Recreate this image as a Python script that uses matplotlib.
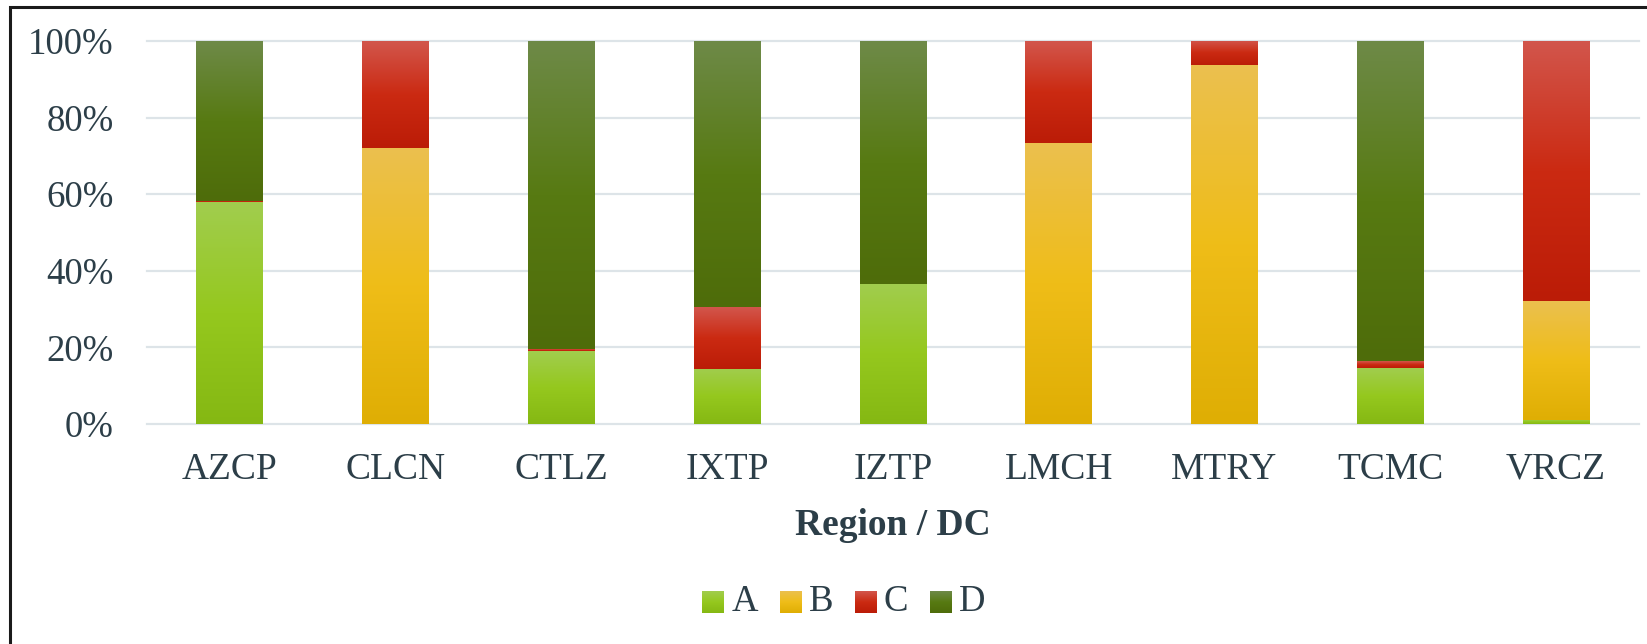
import numpy as np
import matplotlib
matplotlib.use("Agg")
import matplotlib.pyplot as plt
from matplotlib.colors import LinearSegmentedColormap
from matplotlib.patches import Rectangle
from matplotlib.image import BboxImage
from matplotlib.transforms import Bbox, TransformedBbox
from matplotlib.legend_handler import HandlerBase

# share of each class per region / DC (percent)
regions = ["AZCP", "CLCN", "CTLZ", "IXTP", "IZTP", "LMCH", "MTRY", "TCMC", "VRCZ"]
share_a = [57.9, 0.0, 19.0, 14.4, 36.6, 0.0, 0.0, 14.6, 1.1]
share_b = [0.0, 72.1, 0.0, 0.0, 0.0, 73.4, 93.7, 0.0, 31.0]
share_c = [0.4, 27.9, 0.5, 16.1, 0.0, 26.6, 6.3, 1.8, 67.9]
share_d = [41.7, 0.0, 80.5, 69.5, 63.4, 0.0, 0.0, 83.6, 0.0]
series_names = ["A", "B", "C", "D"]

# light top -> saturated middle -> darker bottom
gradients = {
    "A": ["#a1cd4e", "#95c81e", "#85b813"],
    "B": ["#ebc04f", "#efbd18", "#dfae04"],
    "C": ["#d2564c", "#cb2a12", "#bb1c07"],
    "D": ["#6e8a48", "#577a12", "#4e6c0a"],
}
text_color = "#2c3e48"
grid_color = "#dde4e8"

plt.rcParams["font.family"] = ["Liberation Serif", "DejaVu Serif"]

cmaps = {k: LinearSegmentedColormap.from_list(k, v) for k, v in gradients.items()}
ramp = np.linspace(0, 1, 256).reshape(-1, 1)


class GradientHandler(HandlerBase):
    def legend_artist(self, legend, orig_handle, fontsize, handlebox):
        x0, y0 = handlebox.xdescent, handlebox.ydescent
        side = handlebox.height
        box = TransformedBbox(Bbox.from_bounds(x0, y0, side, side),
                              handlebox.get_transform())
        img = BboxImage(box, cmap=cmaps[orig_handle.get_label()],
                        interpolation="bilinear")
        img.set_data(ramp)
        handlebox.add_artist(img)
        return img


fig = plt.figure(figsize=(16.47, 6.44), dpi=100)
ax = fig.add_axes([0.0891, 0.3416, 0.906, 0.5947])

x = np.arange(len(regions))
width = 0.40
bottom = np.zeros(len(regions))
for name, vals in zip(series_names, [share_a, share_b, share_c, share_d]):
    vals = np.asarray(vals)
    for xi, b, v in zip(x, bottom, vals):
        if v <= 0:
            continue
        ax.imshow(ramp, cmap=cmaps[name], aspect="auto", interpolation="bilinear",
                  extent=[xi - width / 2, xi + width / 2, b, b + v], zorder=2)
    bottom += vals

ax.set_xlim(-0.5, len(regions) - 0.5)
ax.set_ylim(0, 100)
ax.set_yticks(np.arange(0, 101, 20))
ax.set_yticklabels([f"{t}%" for t in range(0, 101, 20)])
ax.set_xticks(x)
ax.set_xticklabels(regions)
ax.tick_params(axis="both", length=0, labelcolor=text_color)
ax.tick_params(axis="y", pad=24, labelsize=26.5)
ax.tick_params(axis="x", pad=20.5, labelsize=27)
ax.yaxis.grid(True, color=grid_color, linewidth=1.6)
for gl in ax.get_ygridlines():
    gl.set_clip_on(False)
ax.set_axisbelow(True)
for s in ax.spines.values():
    s.set_visible(False)
ax.set_xlabel("Region / DC", fontsize=27, fontweight="bold", color=text_color,
              labelpad=15)

handles = [Rectangle((0, 0), 1, 1, label=n) for n in series_names]
fig.legend(handles=handles, handler_map={Rectangle: GradientHandler()},
           loc="center", bbox_to_anchor=(844 / 1647, 1 - 602 / 644), ncol=4,
           frameon=False, fontsize=26.5, labelcolor=text_color,
           handlelength=0.53, handleheight=0.53, handletextpad=0.25,
           columnspacing=0.6)

# outer frame of the chart
fig.add_artist(Rectangle((10 / 1647, -0.1), 1.2, 1 - 7 / 644 + 0.1,
                         transform=fig.transFigure, fill=False,
                         edgecolor="#1a1a1a", linewidth=2.2))

fig.savefig("out.png", dpi=100)
